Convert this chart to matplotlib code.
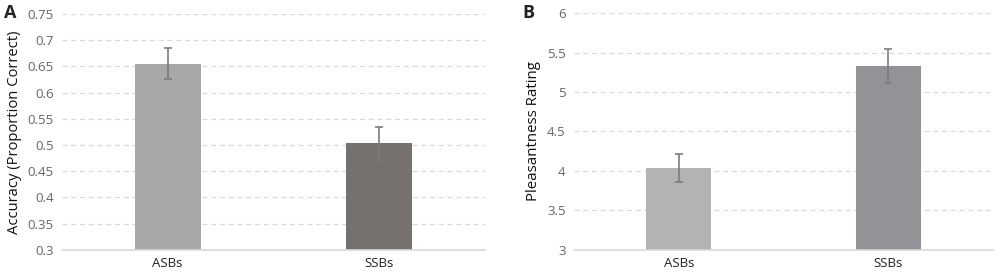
import matplotlib.pyplot as plt

plt.rcParams['font.family'] = ['Open Sans', 'DejaVu Sans']

# Données
categories = ["ASBs", "SSBs"]
accuracy = [0.655, 0.503]
accuracy_err = [0.030, 0.032]
pleasantness = [4.04, 5.33]
pleasantness_err = [0.18, 0.22]

acc_ticks = [0.3, 0.35, 0.4, 0.45, 0.5, 0.55, 0.6, 0.65, 0.7, 0.75]
acc_ticklabels = ["0.3", "0.35", "0.4", "0.45", "0.5", "0.55", "0.6", "0.65", "0.7", "0.75"]
pl_ticks = [3, 3.5, 4, 4.5, 5, 5.5, 6]
pl_ticklabels = ["3", "3.5", "4", "4.5", "5", "5.5", "6"]

fig = plt.figure(figsize=(10, 2.78), dpi=100)
ax_a = fig.add_axes([0.062, 0.101, 0.423, 0.849])
ax_b = fig.add_axes([0.574, 0.101, 0.419, 0.852])


def style_axis(ax, values, errors, colors, ticks, ticklabels, ylabel, ylabel_size):
    x = range(len(categories))
    ax.set_axisbelow(True)
    ax.yaxis.grid(True, color="#d9d9d9", linestyle=(0, (4, 3)), linewidth=0.9)
    ax.bar(x, values, width=0.31, color=colors, zorder=2)
    ax.errorbar(x, values, yerr=errors, fmt="none", ecolor="#7b7b7b",
                elinewidth=1.2, capsize=3, capthick=1.2, zorder=3)
    ax.set_xlim(-0.5, 1.5)
    ax.set_ylim(ticks[0], ticks[-1])
    ax.set_yticks(ticks)
    ax.set_yticklabels(ticklabels)
    ax.set_xticks(list(x))
    ax.set_xticklabels(categories)
    for side in ["top", "right", "left"]:
        ax.spines[side].set_visible(False)
    ax.spines["bottom"].set_color("#d9d9d9")
    ax.spines["bottom"].set_linewidth(1.2)
    ax.tick_params(axis="y", length=0, colors="#666666", labelsize=9.5, pad=6)
    ax.tick_params(axis="x", length=0, colors="#222222", labelsize=9.5, pad=5)
    ax.set_ylabel(ylabel, fontsize=ylabel_size, color="#111111", labelpad=4)


style_axis(ax_a, accuracy, accuracy_err, ["#aaa7a7", "#75716f"],
           acc_ticks, acc_ticklabels, "Accuracy (Proportion Correct)", 10.6)
style_axis(ax_b, pleasantness, pleasantness_err, ["#b2b3b5", "#929396"],
           pl_ticks, pl_ticklabels, "Pleasantness Rating", 10.8)

fig.text(0.004, 0.955, "A", fontsize=13, fontweight="bold", va="center", color="#222222")
fig.text(0.522, 0.955, "B", fontsize=13, fontweight="bold", va="center", color="#222222")

plt.savefig("out.png", dpi=100)
